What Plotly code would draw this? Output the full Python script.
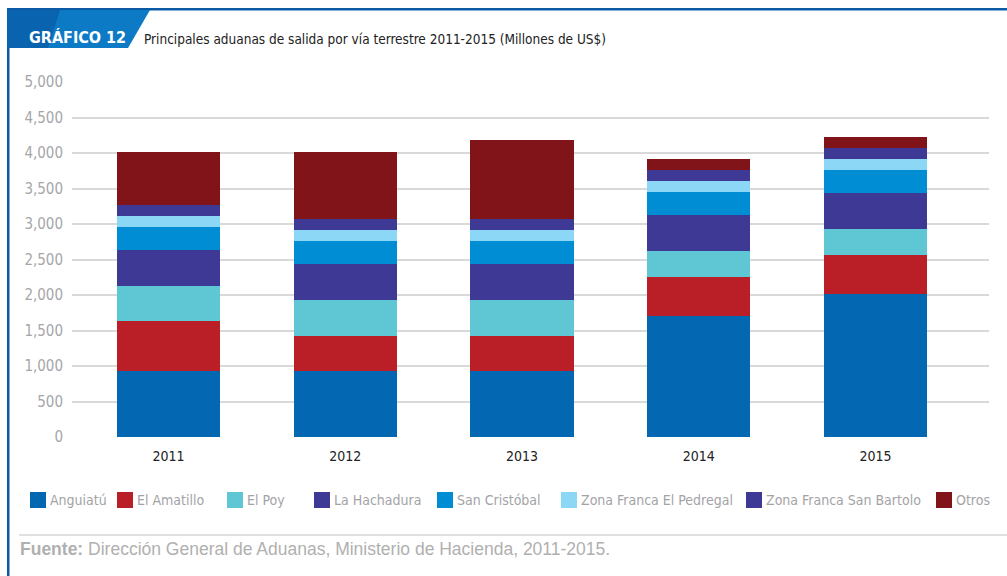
import plotly.graph_objects as go

# Data (Millones de US$)
years = ["2011", "2012", "2013", "2014", "2015"]
anguiatu = [930, 930, 930, 1700, 2010]
el_amatillo = [700, 500, 500, 555, 555]
el_poy = [500, 500, 500, 370, 370]
la_hachadura = [510, 510, 510, 510, 510]
san_cristobal = [315, 315, 315, 315, 315]
zf_el_pedregal = [155, 155, 155, 155, 155]
zf_san_bartolo = [155, 155, 155, 155, 155]
otros = [755, 955, 1125, 155, 155]

series_names = ["Anguiatú", "El Amatillo", "El Poy", "La Hachadura", "San Cristóbal",
                "Zona Franca El Pedregal", "Zona Franca San Bartolo", "Otros"]
series_values = [anguiatu, el_amatillo, el_poy, la_hachadura, san_cristobal,
                 zf_el_pedregal, zf_san_bartolo, otros]
colors = ["#0367b1", "#ba1f28", "#5fc7d4", "#3d3994", "#008dd4",
          "#8dd7f6", "#3d3994", "#801419"]

y_ticks = [0, 500, 1000, 1500, 2000, 2500, 3000, 3500, 4000, 4500, 5000]

COND = "DejaVu Sans Condensed, Liberation Sans Narrow, sans-serif"

W, H = 1007, 576
ML, MR, MT, MB = 72, 18, 82, 139
PW, PH = W - ML - MR, H - MT - MB

fig = go.Figure()
for name, vals, col in zip(series_names, series_values, colors):
    fig.add_trace(go.Bar(x=years, y=vals, name=name, marker=dict(color=col, line=dict(width=0)),
                         showlegend=False))


def px(x):
    # page pixel -> paper x
    return (x - ML) / PW


def py(y):
    # page pixel -> paper y
    return (H - MB - y) / PH


shapes = []
annotations = []

# Frame: top rule and left rule
shapes.append(dict(type="rect", xref="paper", yref="paper", x0=px(7), x1=px(1007),
                   y0=py(10.5), y1=py(8), fillcolor="#0b5aa5", line=dict(width=0), layer="above"))
shapes.append(dict(type="rect", xref="paper", yref="paper", x0=px(7), x1=px(9.5),
                   y0=py(576), y1=py(8), fillcolor="#0b5aa5", line=dict(width=0), layer="above"))
# Header tab (two tones for a left-to-right shading)
shapes.append(dict(type="path", xref="paper", yref="paper",
                   path=f"M {px(7)},{py(10)} L {px(150)},{py(10)} L {px(128)},{py(48)} L {px(7)},{py(48)} Z",
                   fillcolor="#0d7ac6", line=dict(width=0)))
shapes.append(dict(type="path", xref="paper", yref="paper",
                   path=f"M {px(7)},{py(10)} L {px(60)},{py(10)} L {px(48)},{py(48)} L {px(7)},{py(48)} Z",
                   fillcolor="#0a63af", line=dict(width=0)))
annotations.append(dict(text="<b>GRÁFICO 12</b>", xref="paper", yref="paper", x=px(27), y=py(38),
                        xanchor="left", yanchor="middle", showarrow=False,
                        font=dict(family=COND, size=16, color="white")))
annotations.append(dict(text="Principales aduanas de salida por vía terrestre 2011-2015 (Millones de US$)",
                        xref="paper", yref="paper", x=px(142), y=py(39), xanchor="left", yanchor="middle",
                        showarrow=False, font=dict(family=COND, size=13.5, color="#222222")))

# Legend
legend_x = [30, 117, 227, 314, 437, 561, 746, 936]
for name, col, lx in zip(series_names, colors, legend_x):
    shapes.append(dict(type="rect", xref="paper", yref="paper", x0=px(lx), x1=px(lx + 16),
                       y0=py(508), y1=py(492), fillcolor=col, line=dict(width=0)))
    annotations.append(dict(text=name, xref="paper", yref="paper", x=px(lx + 18), y=py(500),
                            xanchor="left", yanchor="middle", showarrow=False,
                            font=dict(family=COND, size=14, color="#a3a3a6")))

# Source
shapes.append(dict(type="line", xref="paper", yref="paper", x0=px(19), x1=px(1007),
                   y0=py(535), y1=py(535), line=dict(color="#e0e0e0", width=2)))
annotations.append(dict(text="<b>Fuente:</b> Dirección General de Aduanas, Ministerio de Hacienda, 2011-2015.",
                        xref="paper", yref="paper", x=px(18), y=py(549), xanchor="left", yanchor="middle",
                        showarrow=False, font=dict(family="Liberation Sans, Arial, sans-serif", size=17.5,
                                                   color="#b0b0b0")))

fig.update_layout(
    width=W, height=H,
    barmode="stack",
    bargap=0.417,
    plot_bgcolor="white",
    paper_bgcolor="white",
    margin=dict(l=ML, r=MR, t=MT, b=MB),
    shapes=shapes,
    annotations=annotations,
    xaxis=dict(range=[-0.546, 4.642], showgrid=False, zeroline=False, showline=False, ticks="",
               ticklabelstandoff=9,
               tickfont=dict(family=COND, size=14, color="#222222"), fixedrange=True),
    yaxis=dict(range=[0, 5002], tickvals=y_ticks, tickformat=",", showgrid=True,
               gridcolor="#d9d9d9", gridwidth=1.5, zeroline=False, showline=False, ticks="",
               ticklabelstandoff=8,
               tickfont=dict(family=COND, size=15, color="#a6a6a8"), fixedrange=True),
)

fig.write_html("out.html")
